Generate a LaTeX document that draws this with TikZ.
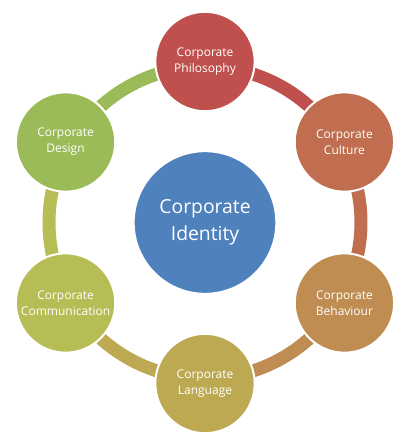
\documentclass[tikz,border=0pt]{standalone}
\usepackage{fontspec}
\setmainfont{Open Sans}
\definecolor{philo}{HTML}{C0504D}
\definecolor{culture}{HTML}{C06E4F}
\definecolor{behav}{HTML}{BF8C51}
\definecolor{lang}{HTML}{BEA953}
\definecolor{comm}{HTML}{B6BD55}
\definecolor{design}{HTML}{9BBB59}
\definecolor{ident}{HTML}{4F81BD}
\begin{document}
\begin{tikzpicture}[x=0.75pt,y=0.75pt,ring/.style={line width=9.75pt},outer node/.style={circle,draw=white,line width=1.5pt,minimum size=74.5pt,inner sep=0pt,align=center,text=white,font=\fontsize{9}{12}\selectfont},core node/.style={circle,draw=white,line width=1.5pt,minimum size=107pt,inner sep=0pt,align=center,text=white,font=\fontsize{14.5}{20}\selectfont}]
                \useasboundingbox (-205,-221.5) rectangle (204,222.5);

                \coordinate (r1) at (90:156);
                \coordinate (r2) at (30:156);
                \coordinate (r3) at (-30:156);
                \coordinate (r4) at (-90:156);
                \coordinate (r5) at (-150:156);
                \coordinate (r6) at (150:156);

                \draw[ring,philo] (r1) arc[start angle=90,end angle=30,radius=156];
                \draw[ring,culture] (r2) arc[start angle=30,end angle=-30,radius=156];
                \draw[ring,behav] (r3) arc[start angle=-30,end angle=-90,radius=156];
                \draw[ring,lang] (r4) arc[start angle=-90,end angle=-150,radius=156];
                \draw[ring,comm] (r5) arc[start angle=210,end angle=150,radius=156];
                \draw[ring,design] (r6) arc[start angle=150,end angle=90,radius=156];

                \node[core node,fill=ident] (ident) at (0,0) {Corporate\\Identity};
                \node[outer node,fill=philo] (philo) at (90:161) {Corporate\\Philosophy};
                \node[outer node,fill=culture] (culture) at (30:161) {Corporate\\Culture};
                \node[outer node,fill=behav] (behav) at (-30:161) {Corporate\\Behaviour};
                \node[outer node,fill=lang] (lang) at (-90:161) {Corporate\\Language};
                \node[outer node,fill=comm] (comm) at (-150:161) {Corporate\\Communication};
                \node[outer node,fill=design] (design) at (150:161) {Corporate\\Design};
            \end{tikzpicture}
\end{document}
